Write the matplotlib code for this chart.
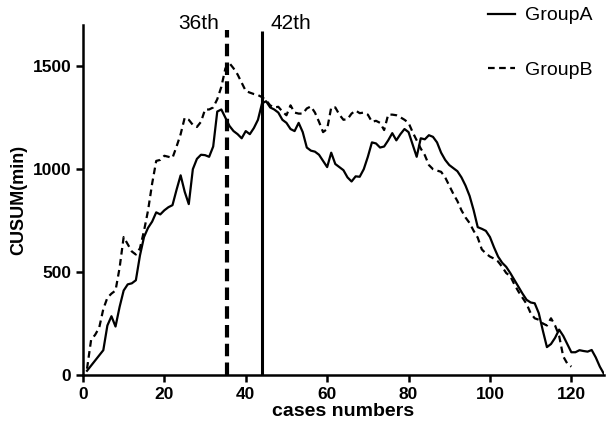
import numpy as np
import matplotlib.pyplot as plt

plt.rcParams['font.family'] = ['Liberation Sans', 'DejaVu Sans']

# CUSUM of operation time
group_a = [20, 45, 70, 95, 120, 240, 285, 235, 330, 410,
           440, 445, 460, 580, 670, 715, 745, 790, 780, 800,
           815, 825, 900, 970, 890, 830, 1000, 1050, 1070, 1068,
           1060, 1110, 1280, 1290, 1250, 1210, 1185, 1170, 1150, 1185,
           1170, 1200, 1240, 1320, 1330, 1300, 1290, 1275, 1240, 1225,
           1195, 1185, 1225, 1180, 1105, 1090, 1085, 1070, 1040, 1010,
           1080, 1025, 1010, 995, 960, 940, 965, 963, 1000, 1060,
           1130, 1125, 1105, 1110, 1140, 1175, 1140, 1170, 1195, 1180,
           1120, 1060, 1150, 1145, 1165, 1157, 1130, 1080, 1045, 1020,
           1005, 990, 960, 920, 870, 800, 718, 710, 700, 670,
           620, 575, 545, 525, 495, 462, 430, 395, 365, 352,
           348, 300, 215, 135, 150, 180, 220, 190, 150, 110,
           110, 120, 116, 113, 121, 85, 40, 5]
group_b = [30, 170, 195, 230, 320, 375, 395, 410, 520, 670,
           635, 600, 585, 615, 700, 800, 930, 1040, 1045, 1065,
           1060, 1055, 1110, 1170, 1250, 1240, 1215, 1205, 1230, 1290,
           1290, 1300, 1340, 1400, 1490, 1515, 1490, 1460, 1420, 1380,
           1372, 1365, 1360, 1350, 1335, 1310, 1300, 1303, 1280, 1262,
           1310, 1275, 1270, 1270, 1295, 1305, 1275, 1230, 1180, 1195,
           1300, 1300, 1265, 1240, 1243, 1270, 1285, 1272, 1275, 1265,
           1230, 1235, 1225, 1190, 1265, 1265, 1262, 1252, 1240, 1225,
           1180, 1140, 1100, 1068, 1020, 1000, 993, 987, 960, 920,
           880, 845, 800, 765, 738, 700, 667, 610, 590, 575,
           565, 551, 525, 495, 480, 440, 405, 375, 345, 300,
           275, 268, 250, 240, 275, 240, 190, 90, 55, 40]
cases_a = np.arange(1, len(group_a) + 1)
cases_b = np.arange(1, len(group_b) + 1)

# cut points marked on the chart
cut_b = 35.5
cut_a = 44

fig = plt.figure(figsize=(6.1, 4.26), dpi=100)
ax = fig.add_axes([0.136, 0.12, 0.854, 0.821])

ax.plot(cases_a, group_a, color='black', lw=1.6, label='GroupA')
ax.plot(cases_b, group_b, color='black', lw=1.6, linestyle=(0, (3, 2)), label='GroupB')

ax.vlines(cut_b, 0, 1675, color='black', lw=3, linestyles=[(0, (3, 1.5))])
ax.vlines(cut_a, 0, 1670, color='black', lw=2.2)
ax.text(cut_b - 2, 1710, '36th', fontsize=15, ha='right', va='center')
ax.text(cut_a + 2, 1710, '42th', fontsize=15, ha='left', va='center')

ax.set_xlim(0, 128)
ax.set_ylim(0, 1700)
ax.set_xticks(range(0, 121, 20))
ax.set_yticks([0, 500, 1000, 1500])
ax.spines['top'].set_visible(False)
ax.spines['right'].set_visible(False)
ax.spines['left'].set_linewidth(1.8)
ax.spines['bottom'].set_linewidth(1.8)
ax.tick_params(width=1.8, length=5, labelsize=12.5)
for lab in ax.get_xticklabels() + ax.get_yticklabels():
    lab.set_fontweight('bold')

ax.set_xlabel('cases numbers', fontsize=14, fontweight='bold', labelpad=1)
ax.set_ylabel('CUSUM(min)', fontsize=13, fontweight='bold', labelpad=4)

fig.legend(loc='upper right', bbox_to_anchor=(1.0, 1.025), frameon=False,
           fontsize=14, handlelength=1.4, handletextpad=0.5, labelspacing=1.9)

plt.savefig('out.png', dpi=100)
